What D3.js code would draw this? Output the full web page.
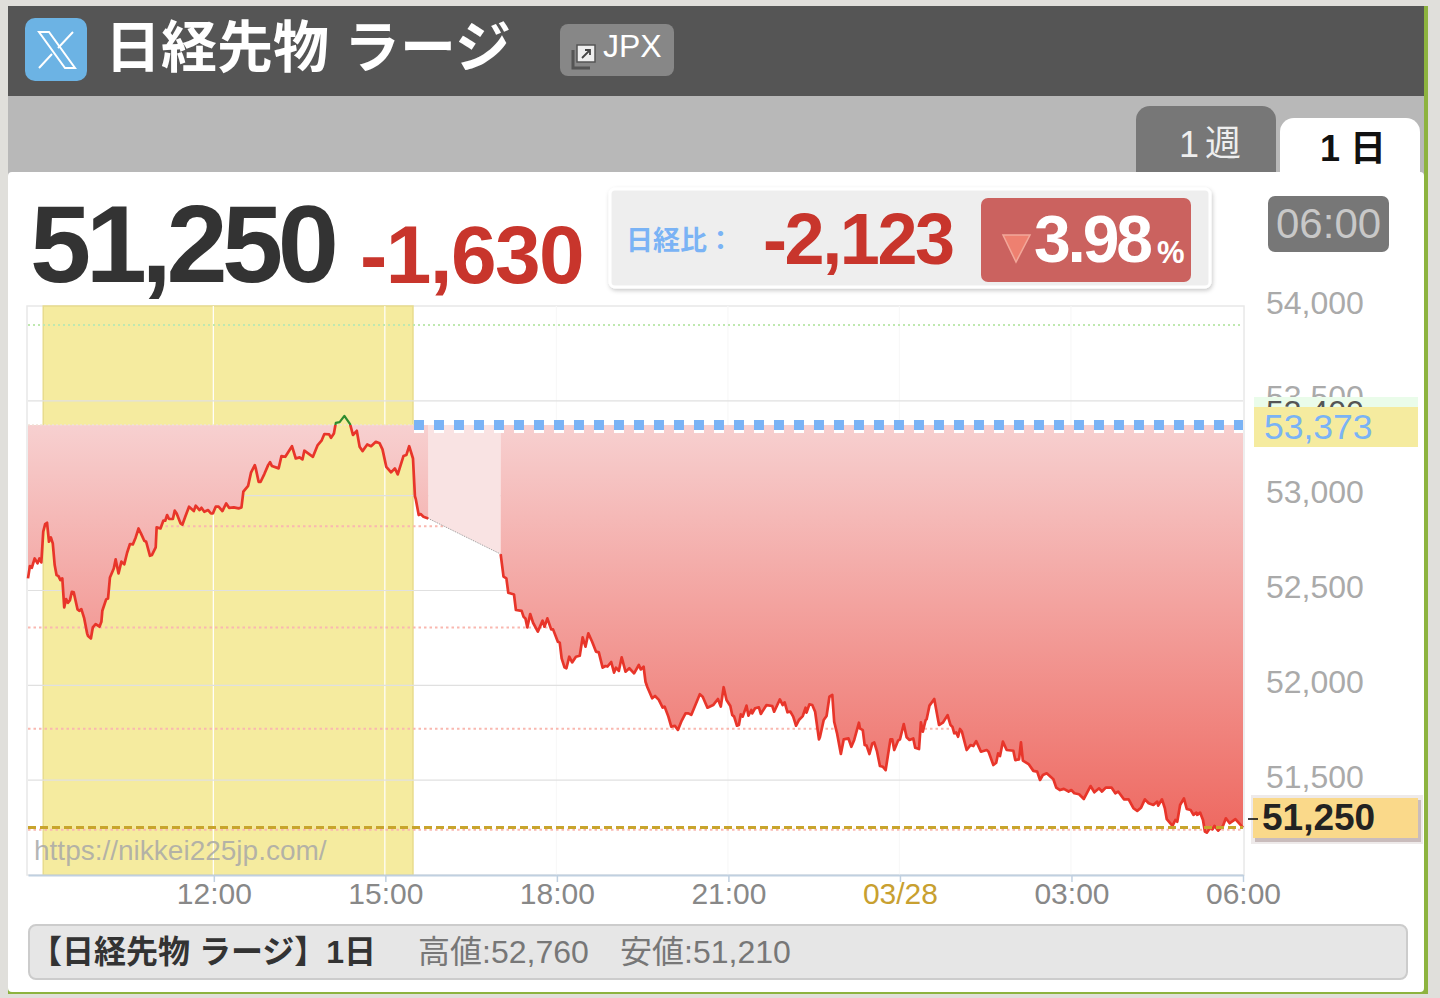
<!DOCTYPE html>
<html lang="ja">
<head>
<meta charset="utf-8">
<title>日経先物 ラージ</title>
<script src="https://cdn.jsdelivr.net/npm/d3@7"></script>
<style>
  html, body { margin: 0; padding: 0; background: #e0dfdb; }
  svg { display: block; }
</style>
</head>
<body>
<div id="chart"></div>
<script>
// minutes after 08:45, price
const daySession = [
  [0,52564],[2,52629],[4,52620],[7,52669],[10,52643],[12,52669],[14,52648],[16,52810],[18,52850],[20,52857],
  [22,52757],[24,52780],[26,52748],[28,52634],[30,52581],[32,52576],[34,52555],[36,52564],[38,52411],[40,52455],
  [42,52435],[44,52449],[46,52493],[48,52490],[52,52400],[54,52393],[56,52402],[59,52353],[62,52274],[63,52260],
  [66,52247],[68,52305],[71,52323],[75,52309],[77,52335],[78,52393],[82,52453],[84,52458],[86,52569],[90,52616],
  [92,52664],[95,52590],[98,52652],[101,52638],[104,52699],[107,52745],[110,52743],[113,52780],[116,52827],[119,52796],
  [122,52762],[124,52757],[128,52683],[130,52687],[134,52727],[135,52833],[139,52827],[142,52868],[144,52868],[146,52898],
  [148,52877],[152,52877],[154,52921],[156,52906],[160,52854],[162,52847],[165,52889],[169,52942],[174,52919],[176,52947],
  [180,52924],[182,52936],[185,52915],[189,52924],[192,52906],[194,52906],[197,52942],[200,52942],[204,52919],[208,52959],
  [211,52936],[216,52938],[221,52933],[224,52938],[226,53021],[231,53052],[234,53121],[238,53161],[239,53144],[242,53073],
  [244,53072],[248,53114],[252,53161],[254,53177],[256,53156],[263,53144],[266,53209],[270,53205],[277,53261],[281,53196],
  [285,53202],[288,53191],[290,53237],[299,53205],[304,53267],[308,53290],[311,53325],[316,53323],[318,53305],[321,53328],
  [323,53384],[327,53388],[332,53421],[338,53377],[341,53320],[345,53342],[348,53258],[351,53235],[356,53270],[360,53261],
  [365,53284],[369,53276],[372,53244],[376,53152],[381,53123],[385,53144],[388,53112],[394,53209],[397,53214],[400,53261],
  [404,53196],[406,52998],[407,52980],[410,52898],[412,52903],[415,52889],[420,52880]
];
const nightSession = [
  [496,52692],[499,52573],[502,52564],[504,52488],[510,52479],[512,52397],[518,52393],[520,52362],[522,52353],[524,52305],
  [527,52376],[530,52330],[535,52283],[540,52341],[542,52309],[545,52353],[549,52295],[551,52295],[556,52230],[558,52225],
  [560,52142],[563,52095],[565,52090],[568,52151],[571,52121],[575,52151],[579,52156],[582,52253],[585,52204],[588,52274],
  [592,52230],[596,52178],[599,52174],[603,52093],[606,52102],[608,52099],[612,52123],[615,52067],[617,52093],[620,52076],
  [623,52148],[627,52072],[631,52090],[636,52063],[641,52107],[643,52084],[646,52098],[648,52019],[650,51990],[655,51932],
  [658,51944],[662,51923],[666,51882],[668,51888],[672,51835],[675,51782],[679,51786],[682,51765],[686,51814],[690,51852],
  [693,51852],[696,51844],[705,51953],[708,51940],[713,51882],[719,51896],[724,51928],[727,51888],[730,51990],[733,51923],
  [737,51891],[739,51844],[741,51835],[744,51787],[746,51791],[748,51847],[750,51835],[754,51893],[756,51840],[759,51870],
  [760,51852],[763,51879],[767,51884],[769,51849],[775,51896],[781,51891],[783,51861],[789,51926],[792,51896],[794,51910],
  [797,51858],[800,51861],[803,51835],[806,51787],[809,51817],[813,51838],[816,51882],[817,51856],[820,51900],[823,51896],
  [826,51861],[830,51715],[831,51726],[835,51817],[838,51838],[841,51940],[844,51949],[846,51808],[849,51747],[853,51638],
  [856,51715],[861,51720],[864,51676],[867,51712],[872,51803],[873,51773],[876,51764],[878,51685],[880,51682],[883,51638],
  [886,51694],[888,51699],[891,51650],[894,51575],[897,51571],[900,51553],[905,51715],[907,51715],[909,51659],[913,51708],
  [915,51715],[919,51796],[922,51726],[925,51712],[929,51720],[931,51671],[935,51664],[937,51805],[939,51756],[942,51817],
  [943,51821],[946,51893],[951,51928],[956,51791],[960,51803],[965,51843],[968,51791],[970,51782],[972,51747],[974,51752],
  [976,51729],[978,51770],[980,51756],[985,51659],[989,51685],[992,51680],[995,51706],[1000,51650],[1006,51659],[1008,51650],
  [1013,51580],[1016,51592],[1018,51641],[1020,51627],[1023,51703],[1027,51659],[1034,51655],[1036,51606],[1040,51610],[1042,51699],
  [1044,51603],[1050,51585],[1055,51549],[1059,51545],[1062,51501],[1065,51527],[1069,51536],[1076,51505],[1079,51461],[1083,51448],
  [1087,51454],[1092,51440],[1095,51448],[1098,51431],[1103,51426],[1108,51401],[1115,51469],[1119,51436],[1124,51457],[1127,51440],
  [1131,51461],[1137,51461],[1141,51431],[1144,51440],[1150,51399],[1155,51399],[1160,51352],[1164,51338],[1168,51355],[1172,51399],
  [1176,51378],[1181,51369],[1185,51387],[1186,51366],[1190,51399],[1193,51352],[1195,51294],[1201,51259],[1204,51290],[1206,51281],
  [1209,51369],[1213,51404],[1216,51348],[1220,51343],[1223,51317],[1226,51329],[1227,51317],[1230,51329],[1233,51290],[1235,51229],
  [1237,51223],[1241,51252],[1243,51241],[1245,51259],[1249,51234],[1254,51259],[1257,51299],[1261,51273],[1267,51295],[1275,51250]
];

const basePrice = 53373;
const lastPrice = 51250;
const greenLevels = [53900];
const redLevels = [52839, 52305, 51771, 51238];
const yTicks = [54000, 53500, 53000, 52500, 52000, 51500];
const xTicks = [195, 375, 555, 735, 915, 1095, 1275];
const xLabels = ["12:00", "15:00", "18:00", "21:00", "03/28", "03:00", "06:00"];
const tradingBand = [16, 404];

const width = 1440, height = 998;
const latin = '"Liberation Sans", Arial, sans-serif';
const cjk = '"Liberation Sans", "Noto Sans CJK JP", sans-serif';

const svg = d3.select("#chart").append("svg")
  .attr("width", width)
  .attr("height", height)
  .attr("viewBox", `0 0 ${width} ${height}`);

const x = d3.scaleLinear().domain([0, 1275]).range([28, 1243]);
const y = d3.scaleLinear().domain([51000, 54000]).range([875, 306]);

const defs = svg.append("defs");

// fill under the base price
const grad = defs.append("linearGradient")
  .attr("id", "fillGrad")
  .attr("gradientUnits", "userSpaceOnUse")
  .attr("x1", 0).attr("x2", 0)
  .attr("y1", y(basePrice)).attr("y2", y(lastPrice));
grad.append("stop").attr("offset", 0).attr("stop-color", "#f7d0d0");
grad.append("stop").attr("offset", 1).attr("stop-color", "#ee6a62");

defs.append("filter").attr("id", "boxShadow")
  .attr("x", "-5%").attr("y", "-10%").attr("width", "110%").attr("height", "125%")
  .append("feDropShadow")
  .attr("dx", 1).attr("dy", 2).attr("stdDeviation", 2)
  .attr("flood-color", "#000").attr("flood-opacity", 0.22);

defs.append("clipPath").attr("id", "belowBase").append("rect")
  .attr("x", 0).attr("width", width)
  .attr("y", y(basePrice)).attr("height", height);
defs.append("clipPath").attr("id", "aboveBase").append("rect")
  .attr("x", 0).attr("width", width)
  .attr("y", 0).attr("height", y(basePrice));

// page frame
svg.append("rect").attr("width", width).attr("height", height).attr("fill", "#e0dfdb");
svg.append("rect").attr("x", 8).attr("y", 90).attr("width", 1420).attr("height", 904).attr("fill", "#8db33f");
svg.append("rect").attr("x", 8).attr("y", 96).attr("width", 1416).attr("height", 90).attr("fill", "#b8b8b8");
svg.append("rect").attr("x", 8).attr("y", 6).attr("width", 1416).attr("height", 90).attr("fill", "#555555");
svg.append("rect").attr("x", 1424).attr("y", 6).attr("width", 4).attr("height", 90).attr("fill", "#8db33f");

// tabs
svg.append("path").attr("d", "M1136 172V120a14 14 0 0 1 14-14H1262a14 14 0 0 1 14 14V172Z").attr("fill", "#777777");
svg.append("path").attr("d", "M1280 180V132a14 14 0 0 1 14-14H1406a14 14 0 0 1 14 14V180Z").attr("fill", "#ffffff");
svg.append("rect").attr("x", 8).attr("y", 172).attr("width", 1416).attr("height", 820).attr("rx", 4).attr("fill", "#ffffff");
svg.append("text").attr("x", 1179).attr("y", 157).text("1")
  .attr("font-family", cjk).attr("font-size", 36).attr("fill", "#eeeeee");
svg.append("text").attr("x", 1205).attr("y", 156).text("週")
  .attr("font-family", cjk).attr("font-size", 36).attr("fill", "#eeeeee");
svg.append("text").attr("x", 1320).attr("y", 161).text("1")
  .attr("font-family", cjk).attr("font-size", 36).attr("font-weight", 700).attr("fill", "#111111");
svg.append("text").attr("x", 1350).attr("y", 161).text("日")
  .attr("font-family", cjk).attr("font-size", 36).attr("font-weight", 700).attr("fill", "#111111");

// header
svg.append("rect").attr("x", 25).attr("y", 18).attr("width", 62).attr("height", 63).attr("rx", 10).attr("fill", "#6cb3e4");
svg.append("path").attr("d", "M39 32H49L75 68H65Z").attr("fill", "none").attr("stroke", "#fff").attr("stroke-width", 2);
svg.append("path").attr("d", "M73 32L58 48M52 54L39 68").attr("fill", "none").attr("stroke", "#fff").attr("stroke-width", 2);
svg.append("text").attr("x", 105).attr("y", 67).text("日経先物")
  .attr("font-family", cjk).attr("font-size", 56).attr("font-weight", 700).attr("fill", "#ffffff");
svg.append("text").attr("x", 344).attr("y", 67).text("ラージ")
  .attr("font-family", cjk).attr("font-size", 56).attr("font-weight", 700).attr("fill", "#ffffff");
svg.append("rect").attr("x", 560).attr("y", 24).attr("width", 114).attr("height", 52).attr("rx", 8).attr("fill", "#878787");
svg.append("path").attr("d", "M573 50V68H590").attr("fill", "none").attr("stroke", "#555").attr("stroke-width", 3);
svg.append("rect").attr("x", 577).attr("y", 45).attr("width", 18).attr("height", 17).attr("fill", "#eeeeee").attr("stroke", "#555").attr("stroke-width", 1.5);
svg.append("path").attr("d", "M582 58L590 50M585 50H590V55").attr("fill", "none").attr("stroke", "#444").attr("stroke-width", 1.8);
svg.append("text").attr("x", 603).attr("y", 57).text("JPX")
  .attr("font-family", latin).attr("font-size", 32).attr("fill", "#ffffff");

// price row
svg.append("text").attr("x", 30).attr("y", 282).text("51,250")
  .attr("font-family", latin).attr("font-size", 110).attr("font-weight", 700)
  .attr("letter-spacing", -5.5).attr("fill", "#333333");
svg.append("text").attr("x", 360).attr("y", 283).text("-1,630")
  .attr("font-family", latin).attr("font-size", 82).attr("font-weight", 700)
  .attr("letter-spacing", -1.6).attr("fill", "#c8352c");

svg.append("rect").attr("x", 610).attr("y", 189).attr("width", 600).attr("height", 98).attr("rx", 5)
  .attr("fill", "#eeeeee").attr("stroke", "#ffffff").attr("stroke-width", 3).attr("filter", "url(#boxShadow)");
svg.append("text").attr("x", 626).attr("y", 250).text("日経比：")
  .attr("font-family", cjk).attr("font-size", 27).attr("font-weight", 700).attr("fill", "#7ab3f5");
svg.append("text").attr("x", 763).attr("y", 264).text("-2,123")
  .attr("font-family", latin).attr("font-size", 72).attr("font-weight", 700)
  .attr("letter-spacing", -2.4).attr("fill", "#c8352c");
svg.append("rect").attr("x", 981).attr("y", 198).attr("width", 210).attr("height", 84).attr("rx", 7).attr("fill", "#cb625f");
svg.append("path").attr("d", "M1003 235H1030L1016 262Z").attr("fill", "#ee8070").attr("stroke", "#f2a89a").attr("stroke-width", 1.5);
svg.append("text").attr("x", 1034).attr("y", 262).text("3.98")
  .attr("font-family", latin).attr("font-size", 66).attr("font-weight", 700)
  .attr("letter-spacing", -3.2).attr("fill", "#ffffff");
svg.append("text").attr("x", 1157).attr("y", 263).text("%")
  .attr("font-family", latin).attr("font-size", 31).attr("font-weight", 700).attr("fill", "#ffffff");

svg.append("rect").attr("x", 1268).attr("y", 196).attr("width", 121).attr("height", 56).attr("rx", 7).attr("fill", "#777777");
svg.append("text").attr("x", 1276).attr("y", 238).text("06:00")
  .attr("font-family", latin).attr("font-size", 42).attr("fill", "#c8c8c8");

// plot area
svg.append("rect")
  .attr("x", x(0) - 1).attr("y", y(54000))
  .attr("width", x(1275) - x(0) + 2).attr("height", y(51000) - y(54000))
  .attr("fill", "#ffffff").attr("stroke", "#e8e8e8").attr("stroke-width", 1.5);

svg.append("rect")
  .attr("x", x(tradingBand[0])).attr("y", y(54000))
  .attr("width", x(tradingBand[1]) - x(tradingBand[0])).attr("height", y(51000) - y(54000))
  .attr("fill", "#f5eb9f").attr("stroke", "#e8dc8e").attr("stroke-width", 1.5);

// grid
svg.append("g").selectAll("line")
  .data(xTicks.slice(0, -1))
  .join("line")
  .attr("x1", d => x(d) - 0.5).attr("x2", d => x(d) - 0.5)
  .attr("y1", y(54000)).attr("y2", y(51000))
  .attr("stroke", d => d <= tradingBand[1] ? "#ffffff" : "#f8f8f8")
  .attr("stroke-width", 1.2);
svg.append("g").selectAll("line")
  .data(yTicks.slice(1))
  .join("line")
  .attr("x1", x(0)).attr("x2", x(1275))
  .attr("y1", d => y(d)).attr("y2", d => y(d))
  .attr("stroke", "#e0e0e0")
  .attr("stroke-width", 1.2);

// percent levels
svg.append("g").selectAll("line")
  .data(greenLevels)
  .join("line")
  .attr("x1", x(0)).attr("x2", x(1275))
  .attr("y1", d => y(d)).attr("y2", d => y(d))
  .attr("stroke", "#bfe8b0").attr("stroke-width", 2).attr("stroke-dasharray", "2 3");
svg.append("g").selectAll("line")
  .data(redLevels)
  .join("line")
  .attr("x1", x(0)).attr("x2", x(1275))
  .attr("y1", d => y(d)).attr("y2", d => y(d))
  .attr("stroke", "#f9b8b0").attr("stroke-width", 2).attr("stroke-dasharray", "2.5 3");

// area and line
const area = d3.area()
  .x(d => x(d[0]))
  .y0(y(basePrice))
  .y1(d => y(d[1]));
const line = d3.line()
  .x(d => x(d[0]))
  .y(d => y(d[1]));

const gapEnds = [daySession[daySession.length - 1], nightSession[0]];

svg.append("path").datum(gapEnds)
  .attr("d", area).attr("fill", "#f9e3e3");
svg.append("g").attr("clip-path", "url(#belowBase)")
  .selectAll("path")
  .data([daySession, nightSession])
  .join("path")
  .attr("d", area)
  .attr("fill", "url(#fillGrad)");

// base price marks
svg.append("line")
  .attr("x1", x(0)).attr("x2", x(tradingBand[1]))
  .attr("y1", y(basePrice)).attr("y2", y(basePrice))
  .attr("stroke", "#efe3d8").attr("stroke-width", 1.2).attr("stroke-dasharray", "2 2");
svg.append("line")
  .attr("x1", x(tradingBand[1]) + 1).attr("x2", x(1275))
  .attr("y1", y(basePrice) + 3).attr("y2", y(basePrice) + 3)
  .attr("stroke", "#ffffff").attr("stroke-width", 10).attr("stroke-dasharray", "10 10");
svg.append("line")
  .attr("x1", x(tradingBand[1]) + 1).attr("x2", x(1275))
  .attr("y1", y(basePrice)).attr("y2", y(basePrice))
  .attr("stroke", "#7ab3f5").attr("stroke-width", 10).attr("stroke-dasharray", "10 10");

svg.append("path").datum(gapEnds)
  .attr("d", line).attr("fill", "none")
  .attr("stroke", "#999999").attr("stroke-width", 1).attr("stroke-dasharray", "1 1");

svg.append("g").attr("clip-path", "url(#belowBase)")
  .selectAll("path")
  .data([daySession, nightSession])
  .join("path")
  .attr("d", line)
  .attr("fill", "none")
  .attr("stroke", "#e8352a")
  .attr("stroke-width", 2.7)
  .attr("stroke-linejoin", "round");
svg.append("g").attr("clip-path", "url(#aboveBase)")
  .append("path").datum(daySession)
  .attr("d", line)
  .attr("fill", "none")
  .attr("stroke", "#2e8b2e")
  .attr("stroke-width", 2.2)
  .attr("stroke-linejoin", "round");

// last price line
svg.append("line")
  .attr("x1", x(0)).attr("x2", x(1275))
  .attr("y1", y(lastPrice)).attr("y2", y(lastPrice))
  .attr("stroke", "#c8a42c").attr("stroke-width", 3).attr("stroke-dasharray", "8 4");

svg.append("text").attr("x", 34).attr("y", 860).text("https://nikkei225jp.com/")
  .attr("font-family", latin).attr("font-size", 28).attr("fill", "#a8a8a8").attr("fill-opacity", 0.85);

// axes
const xAxis = svg.append("g")
  .attr("transform", `translate(0,${y(51000)})`)
  .call(d3.axisBottom(x)
    .tickValues(xTicks)
    .tickFormat((d, i) => xLabels[i])
    .tickSize(7)
    .tickSizeOuter(0)
    .tickPadding(1));
xAxis.select(".domain").attr("stroke", "#c0d0e0").attr("stroke-width", 2);
xAxis.selectAll(".tick line").attr("stroke", "#c0d0e0").attr("stroke-width", 1.5);
xAxis.selectAll(".tick text")
  .attr("font-family", latin)
  .attr("font-size", 30)
  .attr("fill", (d, i) => xLabels[i] === "03/28" ? "#c8a030" : "#888888");

const yAxis = svg.append("g")
  .attr("transform", "translate(1266,0)")
  .call(d3.axisRight(y).tickValues(yTicks).tickFormat(d3.format(",")).tickSize(0).tickPadding(0));
yAxis.select(".domain").remove();
yAxis.selectAll(".tick text")
  .attr("font-family", latin)
  .attr("font-size", 32)
  .attr("dy", 7)
  .attr("fill", "#aaaaaa");

// overlapping right side labels
svg.append("rect").attr("x", 1254).attr("y", 397).attr("width", 164).attr("height", 11).attr("fill", "#eafcea");
svg.append("text").attr("x", 1266).attr("y", 423).text("53,400")
  .attr("font-family", latin).attr("font-size", 32).attr("fill", "#555555");
svg.append("rect").attr("x", 1254).attr("y", 407).attr("width", 164).attr("height", 40).attr("fill", "#f5eb9f");
svg.append("text").attr("x", 1264).attr("y", 439).text(d3.format(",")(basePrice))
  .attr("font-family", latin).attr("font-size", 35.5).attr("fill", "#7ab3f5");

svg.append("rect").attr("x", 1251).attr("y", 795).attr("width", 172).attr("height", 49).attr("fill", "#eeeaea");
svg.append("rect").attr("x", 1255).attr("y", 800).attr("width", 166).attr("height", 42).attr("fill", "#c9bcbc");
svg.append("rect").attr("x", 1253).attr("y", 798).attr("width", 165).attr("height", 40).attr("fill", "#fad98a");
svg.append("line").attr("x1", 1248).attr("x2", 1258).attr("y1", 819).attr("y2", 819)
  .attr("stroke", "#111111").attr("stroke-width", 1.6);
svg.append("text").attr("x", 1262).attr("y", 830).text(d3.format(",")(lastPrice))
  .attr("font-family", latin).attr("font-size", 37).attr("font-weight", 700).attr("fill", "#222222");

// footer
svg.append("rect").attr("x", 29).attr("y", 925).attr("width", 1378).attr("height", 54).attr("rx", 7)
  .attr("fill", "#e6e6e6").attr("stroke", "#cccccc").attr("stroke-width", 2);
svg.append("text").attr("x", 30).attr("y", 963).text("【日経先物 ラージ】1日")
  .attr("font-family", cjk).attr("font-size", 32).attr("font-weight", 700).attr("fill", "#333333");
svg.append("text").attr("x", 418).attr("y", 963).text("高値:52,760")
  .attr("font-family", cjk).attr("font-size", 32).attr("fill", "#777777");
svg.append("text").attr("x", 620).attr("y", 963).text("安値:51,210")
  .attr("font-family", cjk).attr("font-size", 32).attr("fill", "#777777");
</script>
</body>
</html>
